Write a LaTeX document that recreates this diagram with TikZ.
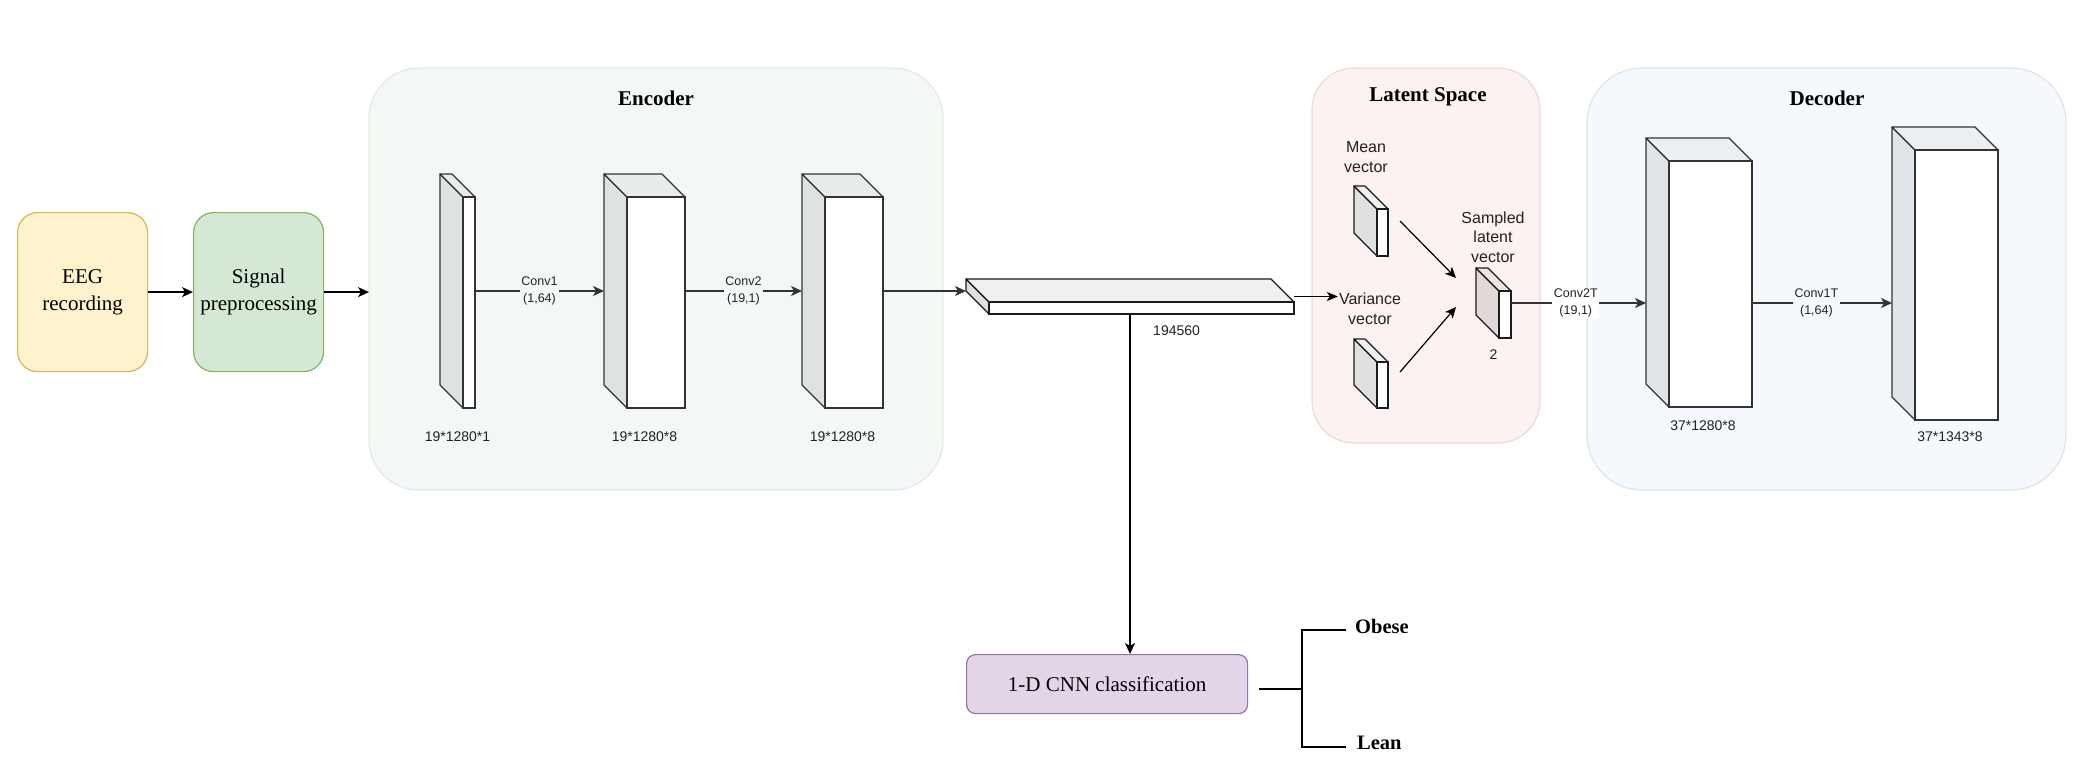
\documentclass[tikz,border=0pt]{standalone}
\usepackage{fontspec}
\setmainfont{Liberation Serif}
\setsansfont{Liberation Sans}
\usetikzlibrary{arrows.meta,calc}
\definecolor{eegfill}{HTML}{FFF2CC}
\definecolor{eegedge}{HTML}{D6B656}
\definecolor{sigfill}{HTML}{D5E8D4}
\definecolor{sigedge}{HTML}{82B366}
\definecolor{encfill}{HTML}{F4F8F4}
\definecolor{encedge}{HTML}{E1EBE1}
\definecolor{latfill}{HTML}{FCF2F2}
\definecolor{latedge}{HTML}{F3D6D6}
\definecolor{decfill}{HTML}{F5F8FD}
\definecolor{decedge}{HTML}{DDE4ED}
\definecolor{cnnfill}{HTML}{E1D5E7}
\definecolor{cnnedge}{HTML}{9673A6}
\definecolor{encside}{HTML}{DFE3DF}
\definecolor{enctop}{HTML}{E9EDE9}
\definecolor{decside}{HTML}{E1E4E8}
\definecolor{dectop}{HTML}{EBEEF2}
\definecolor{grside}{HTML}{E0E0E0}
\definecolor{grtop}{HTML}{F0F0F0}
\definecolor{pkside}{HTML}{E2D8D8}
\definecolor{pktop}{HTML}{ECE4E4}
\definecolor{edgeA}{HTML}{333333}
\definecolor{edgeB}{HTML}{1A1A1A}
\definecolor{txt}{HTML}{222222}
\newcommand\blkcube[8]{%
  \draw[#8, line width=1.2pt, line join=round, fill=#6] (#2,#3) -- (#2-23,#3-23) -- (#2-23,#5-23) -- (#2,#5) -- cycle;
  \draw[#8, line width=1.2pt, line join=round, fill=#7] (#2,#3) -- (#2-23,#3-23) -- (#4-23,#3-23) -- (#4,#3) -- cycle;
  \node[draw=#8, line width=1.2pt, fill=white, inner sep=0pt, outer sep=0pt,
        minimum width={(#4-#2)*1pt}, minimum height={(#5-#3)*1pt}, anchor=north west] (#1) at (#2,#3) {};
  \coordinate (#1-w) at (#2-23, {(#3-23+#5)/2});
  \coordinate (#1-e) at (#4, {(#3-23+#5)/2});
  \coordinate (#1-c) at ({(#2-23+#4)/2}, {(#3-23+#5)/2});
}
\tikzset{
  container/.style={line width=1.2pt, rounded corners=50pt},
  flowbox/.style={line width=1.2pt, rounded corners=20pt, align=center, inner sep=0pt,
    font=\fontsize{21}{27}\selectfont, minimum width=130pt, minimum height=159pt, anchor=north west},
  ttl/.style={font=\fontsize{21}{26}\selectfont\bfseries},
  dim/.style={font=\sffamily\fontsize{14}{17}\selectfont, text=txt, inner sep=1pt},
  conv/.style={font=\sffamily\fontsize{12.5}{16.5}\selectfont, text=txt, align=center, inner sep=1.5pt},
  vec/.style={font=\sffamily\fontsize{16}{19.5}\selectfont, text=txt, align=center, inner sep=1pt},
  arr/.style={line width=1.3pt, -{Stealth[length=11pt,width=10pt,inset=3pt]}},
  garr/.style={draw=edgeA, line width=1.3pt, -{Stealth[length=11pt,width=10pt,inset=3pt]}},
}
\begin{document}
\begin{tikzpicture}[x=1pt, y=-1pt]
\useasboundingbox (0,0) rectangle (2100,772);
% containers
\draw[container, draw=encedge, fill=encfill] (369,68) rectangle (943,490);
\node[ttl] (enctitle) at (656,98) {Encoder};
\draw[container, draw=latedge, fill=latfill, rounded corners=42pt] (1312,68) rectangle (1540,443);
\node[ttl] (lattitle) at (1428,97) {Latent Space};
\draw[container, draw=decedge, fill=decfill, rounded corners=55pt] (1587,68) rectangle (2066,490);
\node[ttl] (dectitle) at (1827,98) {Decoder};
\coordinate (encW) at (369,291);
% input boxes
\node[flowbox, draw=eegedge, fill=eegfill] (eeg) at (17,212) {EEG\\recording};
\node[flowbox, draw=sigedge, fill=sigfill] (sig) at (193,212) {Signal\\preprocessing};
\draw[arr] (eeg.east) -- (eeg.east -| sig.west);
\draw[arr] (sig.east) -- (sig.east -| encW);
% encoder blocks
\blkcube{e1}{463}{197}{475}{408}{encside}{enctop}{edgeA}
\blkcube{e2}{627}{197}{685}{408}{encside}{enctop}{edgeA}
\blkcube{e3}{825}{197}{883}{408}{encside}{enctop}{edgeA}
\node[dim] (e1lab) at (e1-c |- 0,437) {19*1280*1};
\node[dim] (e2lab) at (e2-c |- 0,437) {19*1280*8};
\node[dim] (e3lab) at (e3-c |- 0,437) {19*1280*8};
\draw[garr] (e1-e) -- (e1-e -| e2-w) node[conv, pos=0.5, fill=encfill] (c1) {Conv1\\(1,64)};
\draw[garr] (e2-e) -- (e2-e -| e3-w) node[conv, pos=0.5, fill=encfill] (c2) {Conv2\\(19,1)};
% flatten
\blkcube{fl}{989}{302}{1294}{314}{grside}{grtop}{edgeB}
\coordinate (flW) at (966,291);
\draw[garr] (e3-e) -- (e3-e -| flW);
\node[dim, anchor=west] (flab) at (1152,331) {194560};
% latent space
\blkcube{mean}{1377}{209}{1388}{256}{grside}{grtop}{edgeB}
\blkcube{var}{1377}{362}{1388}{408}{grside}{grtop}{edgeB}
\blkcube{samp}{1499}{291}{1511}{338}{pkside}{pktop}{edgeB}
\node[vec] (meanlab) at (1366,157) {Mean\\vector};
\node[vec] (varlab) at (1370,309) {Variance\\vector};
\node[vec] (samplab) at (1493,237) {Sampled\\latent\\vector};
\node[dim] (slab) at (samp-c |- 0,355) {2};
\draw[line width=1.3pt, -{Stealth[length=11pt,width=9pt,inset=3pt]}] (fl-e) -- (fl-e -| varlab.west);
\coordinate (m1) at (1400,221);
\coordinate (m2) at (1456,278);
\coordinate (v1) at (1400,372);
\coordinate (v2) at (1456,307);
\draw[arr, line width=1.2pt] (m1) -- (m2);
\draw[arr, line width=1.2pt] (v1) -- (v2);
% decoder
\blkcube{d1}{1669}{161}{1752}{407}{decside}{dectop}{edgeA}
\blkcube{d2}{1915}{150}{1998}{420}{decside}{dectop}{edgeA}
\node[dim] (d1lab) at (1703,426) {37*1280*8};
\node[dim] (d2lab) at (1950,437) {37*1343*8};
\coordinate (sampE) at (1511,303);
\draw[garr] (sampE) -- (sampE -| d1-w) node[conv, pos=0.48, fill=white] (c2t) {Conv2T\\(19,1)};
\draw[garr] (sampE -| d1.east) -- (sampE -| d2-w) node[conv, pos=0.46, fill=decfill] (c1t) {Conv1T\\(1,64)};
% classification
\node[draw=cnnedge, fill=cnnfill, line width=1.2pt, rounded corners=9pt, minimum width=281pt, minimum height=59pt,
      anchor=north west, font=\fontsize{21}{26}\selectfont] (cnn) at (966,654) {1-D CNN classification};
\draw[arr] (fl-c |- fl.south) -- (fl-c |- cnn.north);
\coordinate (b0) at (1259,689);
\coordinate (b1) at (1302,689);
\node[font=\fontsize{20.5}{24}\selectfont\bfseries, anchor=west, inner sep=0pt] (obese) at (1355,626) {Obese};
\node[font=\fontsize{20.5}{24}\selectfont\bfseries, anchor=west, inner sep=0pt] (lean) at (1357,743) {Lean};
\draw[line width=2.6pt] (b0) -- (b1);
\draw[line width=2.6pt] (1346,630) -- (b1 |- 0,630) -- (b1 |- 0,747) -- (1346,747);
\end{tikzpicture}
\end{document}
